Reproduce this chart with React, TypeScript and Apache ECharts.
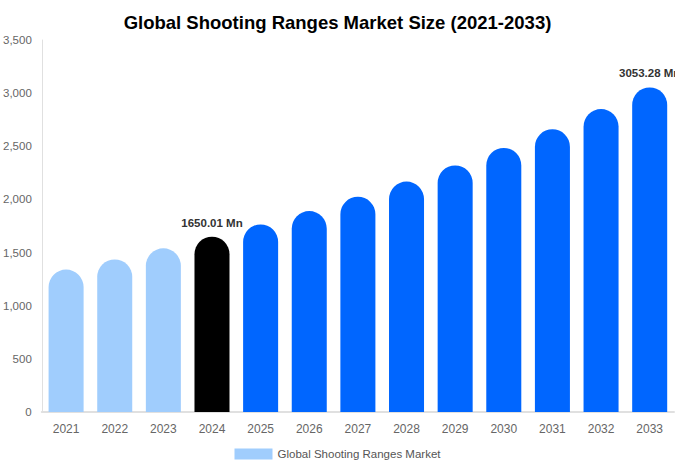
import React, { useEffect, useRef } from 'react';
import * as echarts from 'echarts';

const years = ['2021', '2022', '2023', '2024', '2025', '2026', '2027', '2028', '2029', '2030', '2031', '2032', '2033'];
const marketSize = [1340, 1435, 1540, 1650.01, 1765, 1890, 2025, 2168, 2320, 2485, 2660, 2850, 3053.28];
const labeledYears = ['2024', '2033'];

const PAST = '#a0cdfd';
const BASE = '#000000';
const FORECAST = '#0066ff';

const App: React.FC = () => {
  const chartRef = useRef<HTMLDivElement>(null);

  useEffect(() => {
    if (!chartRef.current) return;
    document.body.style.margin = '0';
    const chart = echarts.init(chartRef.current, undefined, { renderer: 'svg' });

    const barColor = (i: number) => (i < 3 ? PAST : i === 3 ? BASE : FORECAST);

    const option: echarts.EChartsOption = {
      animation: false,
      textStyle: { fontFamily: 'Liberation Sans, Arial, sans-serif' },
      title: {
        text: 'Global Shooting Ranges Market Size (2021-2033)',
        left: 'center',
        top: 8,
        textStyle: { fontSize: 18.5, fontWeight: 'bold', color: '#000' },
      },
      legend: {
        bottom: 4,
        left: 'center',
        itemWidth: 38,
        itemHeight: 11,
        itemGap: 6,
        icon: 'rect',
        textStyle: { color: '#555', fontSize: 11.5 },
        data: ['Global Shooting Ranges Market'],
      },
      grid: { left: 41, right: 1, top: 40, bottom: 57 },
      xAxis: {
        type: 'category',
        data: years,
        axisLine: { lineStyle: { color: '#e0e0e0', width: 2 } },
        axisTick: { show: false },
        axisLabel: { color: '#666', fontSize: 12, margin: 11 },
      },
      yAxis: {
        type: 'value',
        min: 0,
        max: 3500,
        interval: 500,
        splitLine: { show: false },
        axisLine: { show: true, lineStyle: { color: '#e0e0e0' } },
        axisTick: { show: false },
        axisLabel: {
          color: '#666',
          fontSize: 11.5,
          margin: 10,
          align: 'right',
          formatter: (v: number) => v.toLocaleString('en-US'),
        },
      },
      series: [
        {
          name: 'Global Shooting Ranges Market',
          type: 'bar',
          barWidth: '72%',
          itemStyle: { color: PAST },
          data: marketSize.map((v, i) => ({
            value: v,
            itemStyle: { color: barColor(i), borderRadius: [18, 18, 0, 0] },
            label: {
              show: labeledYears.includes(years[i]),
              position: 'top',
              distance: 8,
              formatter: `${v.toFixed(2)} Mn`,
              color: '#333',
              fontSize: 11.5,
              fontWeight: 'bold',
            },
          })),
        },
      ],
    };

    chart.setOption(option);
    return () => chart.dispose();
  }, []);

  return <div ref={chartRef} style={{ width: 675, height: 469 }} />;
};

export default App;
